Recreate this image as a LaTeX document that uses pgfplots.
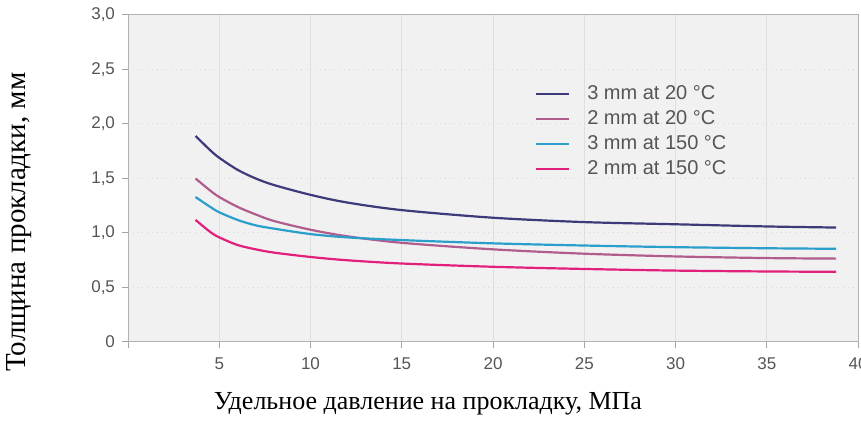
\documentclass[border=0pt]{standalone}
\usepackage{fontspec}
\setmainfont{Liberation Serif}
\newfontfamily\sansf{Liberation Sans}
\usepackage{pgfplots}
\pgfplotsset{compat=1.18}
\definecolor{cA}{HTML}{3D3A7A}
\definecolor{cB}{HTML}{B05C8C}
\definecolor{cC}{HTML}{2A9FCB}
\definecolor{cD}{HTML}{E2207C}
\definecolor{bg}{HTML}{F1F1F1}
\definecolor{tk}{HTML}{555555}
\begin{document}
\begin{tikzpicture}
\useasboundingbox (0,0) rectangle (430.5pt,211pt);
\begin{axis}[
  at={(64pt,40pt)}, anchor=south west,
  scale only axis, width=365pt, height=163.5pt,
  xmin=0, xmax=40, ymin=0, ymax=3,
  xtick={0,5,...,40}, xticklabels={,5,10,15,20,25,30,35,40},
  ytick={0,0.5,...,3}, yticklabels={0,{0,5},{1,0},{1,5},{2,0},{2,5},{3,0}},
  tick pos=left, tick align=outside, major tick length=3pt,
  tick style={gray!70, line width=0.5pt},
  ticklabel style={font=\sansf\fontsize{8.5}{10}\selectfont, text=tk},
  xticklabel style={yshift=-1.5pt},
  /pgf/number format/assume math mode=true,
  axis line style={gray!60, line width=0.5pt},
  axis background/.style={fill=bg},
  xmajorgrids, ymajorgrids,
  x grid style={gray!25, line width=0.4pt},
  y grid style={gray!30, dotted, line width=0.5pt},
  legend style={at={(0.549,0.805)}, anchor=north west, draw=none, fill=none,
    font=\sansf\fontsize{10}{11}\selectfont, text=tk, row sep=2pt,
    nodes={inner sep=1pt}},
  legend image code/.code={\draw[#1, line width=1pt] (0pt,0pt) -- (16.5pt,0pt); \path (24pt,0pt);},
  legend cell align=left,
  every axis plot/.append style={line width=1.1pt, smooth},
]
\addplot[cA] coordinates {(3.7,1.89)(4.5,1.76)(5,1.69)(6,1.58)(7,1.50)(8,1.44)(10,1.35)(12,1.28)(15,1.21)(20,1.14)(25,1.10)(30,1.08)(35,1.06)(38.8,1.05)};
\addlegendentry{3 mm at 20 °C}
\addplot[cB] coordinates {(3.7,1.50)(4.5,1.39)(5,1.33)(6,1.24)(7,1.17)(8,1.11)(10,1.03)(12,0.97)(15,0.91)(20,0.85)(25,0.81)(30,0.785)(35,0.77)(38.8,0.765)};
\addlegendentry{2 mm at 20 °C}
\addplot[cC] coordinates {(3.7,1.33)(4.5,1.24)(5,1.19)(6,1.12)(7,1.07)(8,1.04)(10,0.99)(12,0.96)(15,0.935)(20,0.905)(25,0.885)(30,0.87)(35,0.86)(38.8,0.855)};
\addlegendentry{3 mm at 150 °C}
\addplot[cD] coordinates {(3.7,1.12)(4.5,1.01)(5,0.96)(6,0.89)(7,0.85)(8,0.82)(10,0.78)(12,0.75)(15,0.72)(20,0.69)(25,0.67)(30,0.655)(35,0.647)(38.8,0.644)};
\addlegendentry{2 mm at 150 °C}
\end{axis}
\node[rotate=90, font=\fontsize{14.5}{16}\selectfont] at (9.5pt,100pt) {Толщина прокладки, мм};
\node[font=\fontsize{13}{15}\selectfont] at (214pt,9pt) {Удельное давление на прокладку, МПа};
\end{tikzpicture}
\end{document}
